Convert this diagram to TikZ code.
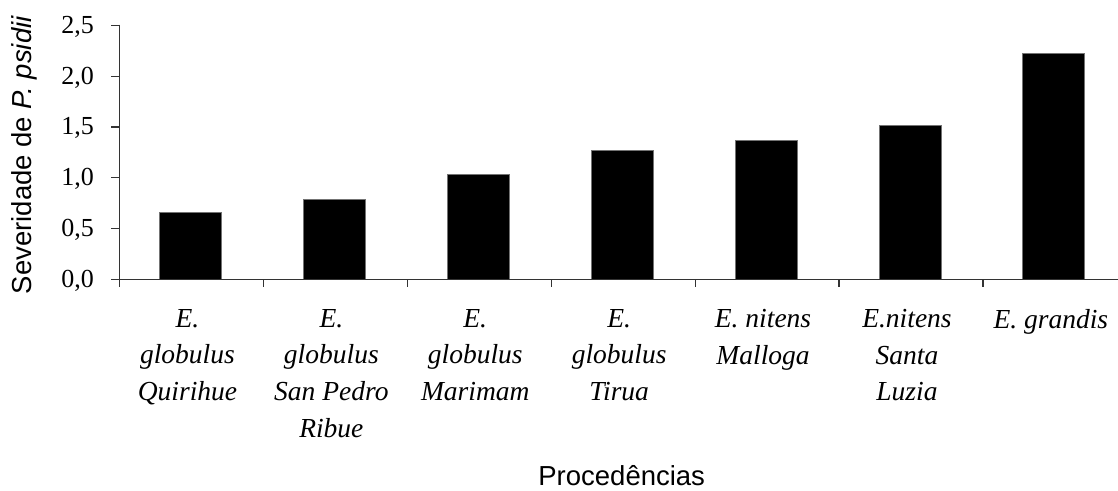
\documentclass[tikz,border=0pt]{standalone}
\usepackage{fontspec}
\setmainfont{Liberation Serif}
\setsansfont{Liberation Sans}
\newcommand*{\ticktextstyle}{\fontsize{26}{30}\selectfont}
\newcommand*{\proctextstyle}{\itshape\fontsize{27.5}{36.7}\selectfont}
\newcommand*{\titletextstyle}{\sffamily\fontsize{27.5}{32}\selectfont}

\begin{document}
\begin{tikzpicture}[x=1pt, y=-1pt,
  axisline/.style={draw=black!80, line width=1.2pt},
  barfill/.style={fill=black, draw=black!55, line width=0.8pt}]
  \useasboundingbox (0,0) rectangle (1118,490);
  % bars with their procedencias
  \foreach \i/\v/\txt in {1/0.662/{E.\\globulus\\Quirihue},
      2/0.787/{E.\\globulus\\San Pedro\\Ribue},
      3/1.036/{E.\\globulus\\Marimam},
      4/1.273/{E.\\globulus\\Tirua},
      5/1.371/{E. nitens\\Malloga},
      6/1.516/{E.nitens\\Santa\\Luzia},
      7/2.224/{E. grandis}} {
    \pgfmathsetmacro{\xc}{118.5+(\i-0.5)*143.9}
    \pgfmathsetmacro{\ytop}{279.3-\v*101.6}
    \filldraw[barfill] (\xc-31,279.3) rectangle (\xc+31,\ytop);
    \node[font=\proctextstyle, align=center, anchor=north, inner sep=0]
      (proc\i) at (\xc-3,309) {\txt};
  }
  % axes
  \coordinate (orig) at (119.5,279.3);
  \coordinate (xend) at (1118,279.3);
  \coordinate (ytop) at (119.5,24.7);
  \draw[axisline] (ytop) -- (119.5,286.5);
  \draw[axisline] (orig) -- (xend);
  \foreach \k in {1,...,6}
    \draw[axisline] (119.5+\k*143.9,279.3) -- ++(0,7.2);
  \foreach \n/\lab in {0/{0,0},1/{0,5},2/{1,0},3/{1,5},4/{2,0},5/{2,5}} {
    \draw[axisline] (111,279.3-\n*50.8) -- (119.5,279.3-\n*50.8);
    \node[font=\ticktextstyle, anchor=east, inner sep=0]
      (tick\n) at (94,280.8-\n*50.8) {\lab};
  }
  % titles
  \node[font=\titletextstyle, rotate=90] (ytitle) at (24,155)
    {Severidade de \textit{P. psidii}};
  \node[font=\titletextstyle, anchor=base]
    (xtitle) at (621.7,485.5) {Procedências};
\end{tikzpicture}
\end{document}
